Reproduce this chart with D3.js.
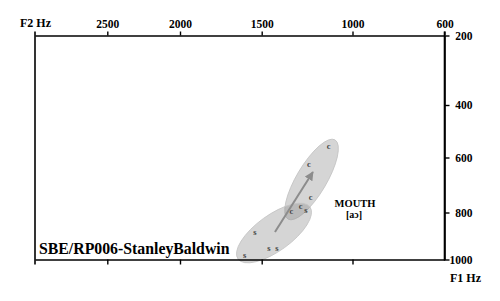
<!DOCTYPE html>
<html>
<head>
<meta charset="utf-8">
<script src="https://cdn.jsdelivr.net/npm/d3@7"></script>
<style>
  body { margin: 0; background: #fff; }
</style>
</head>
<body>
<div id="chart"></div>
<script>
// tick values of the two formant axes
const f2Ticks = [2500, 2000, 1500, 1000, 600];
const f1Ticks = [200, 400, 600, 800, 1000];

// onset (c) and offset (s) tokens, [F2, F1] in Hz
const onsetF2 = [1132, 1240, 1231, 1286, 1336];
const onsetF1 = [556, 622, 742, 776, 795];
const offsetF2 = [1256, 1541, 1460, 1416, 1605];
const offsetF1 = [791, 881, 953, 953, 979];

// ellipses: major axis ends [F2, F1] + half width in px
const ellipseEnds = [
  [[1355, 828], [1096, 533]],
  [[1645, 998], [1234, 780]]
];
const ellipseHalfWidth = [15, 18];

// mean trajectory arrow [F2, F1]
const arrowFrom = [1427, 883];
const arrowTo = [1218, 653];

const speaker = "SBE/RP006-StanleyBaldwin";
const vowel = "MOUTH";
const ipa = "[aɔ]";

const serif = '"Liberation Serif", "Times New Roman", Times, serif';
const width = 500, height = 301;
const plotLeft = 35, plotRight = 444.5, plotTop = 35.5, plotBottom = 259.5;

const svg = d3.select("#chart").append("svg")
  .attr("width", width)
  .attr("height", height)
  .style("font-family", serif)
  .style("font-weight", "bold");

// the axes are not evenly spaced, so map each tick to its place
const x = d3.scaleLinear()
  .domain([3000].concat(f2Ticks))
  .range([plotLeft, 107.3, 180, 261.7, 352.5, plotRight]);

const y = d3.scaleLinear()
  .domain(f1Ticks)
  .range([plotTop, 105, 157.5, 212.5, plotBottom]);

// ---- ellipses ----
const ell = svg.append("g");
ellipseEnds.forEach((ends, i) => {
  const x1 = x(ends[0][0]), y1 = y(ends[0][1]);
  const x2 = x(ends[1][0]), y2 = y(ends[1][1]);
  const cx = (x1 + x2) / 2, cy = (y1 + y2) / 2;
  const rx = Math.hypot(x2 - x1, y2 - y1) / 2;
  const ang = Math.atan2(y2 - y1, x2 - x1) * 180 / Math.PI;
  ell.append("ellipse")
    .attr("cx", cx).attr("cy", cy)
    .attr("rx", rx).attr("ry", ellipseHalfWidth[i])
    .attr("transform", `rotate(${ang},${cx},${cy})`)
    .attr("fill", "#8a8a8a")
    .attr("fill-opacity", 0.36)
    .attr("stroke", "#c4c4c4")
    .attr("stroke-width", 0.8);
});

// ---- arrow ----
svg.append("defs").append("marker")
  .attr("id", "head")
  .attr("viewBox", "0 0 10 10")
  .attr("refX", 9).attr("refY", 5)
  .attr("markerWidth", 4.5).attr("markerHeight", 4.5)
  .attr("markerUnits", "strokeWidth")
  .attr("orient", "auto")
  .append("path")
  .attr("d", "M0,0 L10,5 L0,10 Z")
  .attr("fill", "#8c8c8c");

svg.append("line")
  .attr("x1", x(arrowFrom[0])).attr("y1", y(arrowFrom[1]))
  .attr("x2", x(arrowTo[0])).attr("y2", y(arrowTo[1]))
  .attr("stroke", "#8c8c8c")
  .attr("stroke-width", 2)
  .attr("marker-end", "url(#head)");

// ---- tokens ----
function drawTokens(f2, f1, letter) {
  svg.append("g").selectAll("text")
    .data(f2.map((d, i) => [d, f1[i]]))
    .enter().append("text")
    .attr("x", d => x(d[0]))
    .attr("y", d => y(d[1]))
    .attr("text-anchor", "middle")
    .attr("dominant-baseline", "central")
    .style("font-size", "8.5px")
    .attr("fill", "#444")
    .text(letter);
}
drawTokens(onsetF2, onsetF1, "c");
drawTokens(offsetF2, offsetF1, "s");

// ---- axes ----
function styleAxis(g) {
  g.attr("font-family", null).attr("font-size", null);
  g.selectAll("path.domain").attr("stroke", "#000").attr("stroke-width", 1.6);
  g.selectAll(".tick line").attr("stroke", "#000").attr("stroke-width", 1.4);
  g.selectAll("text")
    .attr("fill", "#000")
    .style("font-family", serif)
    .style("font-weight", "bold")
    .style("font-size", "11.5px");
}

svg.append("g")
  .attr("transform", `translate(0,${plotTop})`)
  .call(d3.axisTop(x).tickValues(f2Ticks).tickFormat(d3.format("d"))
    .tickSize(4).tickSizeOuter(0).tickPadding(4))
  .call(styleAxis);

svg.append("g")
  .attr("transform", `translate(0,${plotBottom})`)
  .call(d3.axisBottom(x).tickValues(f2Ticks.slice(0, 4)).tickSize(5).tickSizeOuter(0).tickFormat(""))
  .call(styleAxis);

// right axis labels are right aligned
svg.append("g")
  .attr("transform", `translate(${plotRight},0)`)
  .call(d3.axisRight(y).tickValues(f1Ticks).tickFormat(d3.format("d"))
    .tickSize(5).tickSizeOuter(0))
  .call(styleAxis)
  .call(g => g.selectAll(".tick text").attr("x", 28).attr("text-anchor", "end"));

// left frame line, a little longer than the plot
svg.append("line")
  .attr("x1", plotLeft).attr("x2", plotLeft)
  .attr("y1", plotTop - 4).attr("y2", plotBottom + 5)
  .attr("stroke", "#000").attr("stroke-width", 1.6);

// right line goes a little above the top too
svg.append("line")
  .attr("x1", plotRight).attr("x2", plotRight)
  .attr("y1", plotTop - 4).attr("y2", plotBottom + 1)
  .attr("stroke", "#000").attr("stroke-width", 1.6);

// ---- labels ----
svg.append("text")
  .attr("x", 20).attr("y", 26.5)
  .style("font-size", "12px")
  .text("F2 Hz");

svg.append("text")
  .attr("x", 450).attr("y", 282)
  .style("font-size", "12px")
  .text("F1 Hz");

svg.append("text")
  .attr("x", 39).attr("y", 253.5)
  .style("font-size", "15.8px")
  .text(speaker);

svg.append("text")
  .attr("x", 355).attr("y", 207)
  .attr("text-anchor", "middle")
  .style("font-size", "10.5px")
  .text(vowel);

svg.append("text")
  .attr("x", 354).attr("y", 218)
  .attr("text-anchor", "middle")
  .style("font-size", "10px")
  .text(ipa);
</script>
</body>
</html>
